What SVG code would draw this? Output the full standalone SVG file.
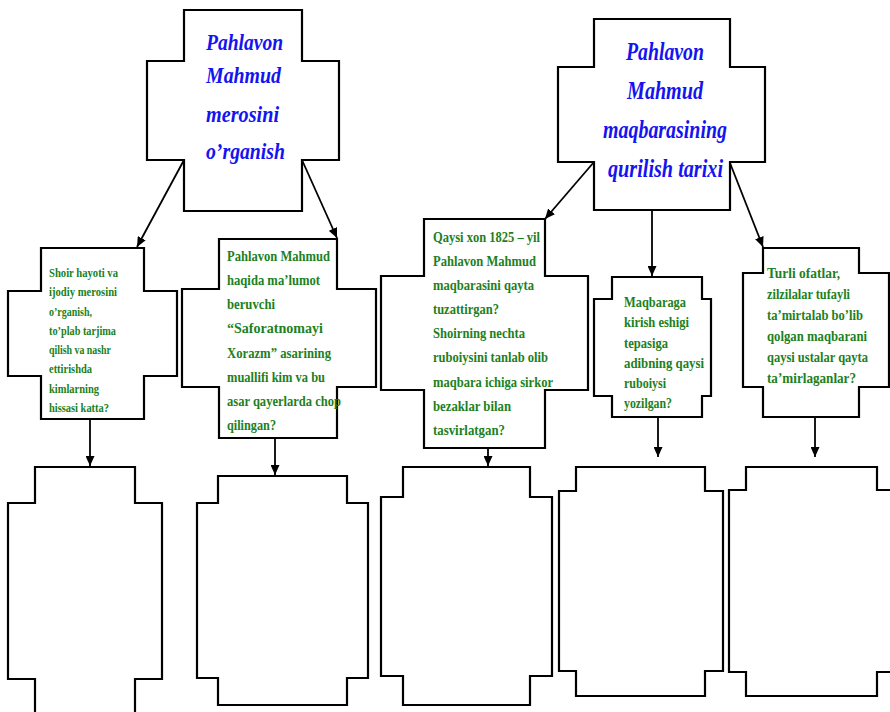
<svg xmlns="http://www.w3.org/2000/svg" width="890" height="712" viewBox="0 0 890 712">
<style>
.shape{fill:#fff;stroke:#000;stroke-width:2.2;stroke-linejoin:miter}
.conn{fill:none;stroke:#000;stroke-width:1.8}
.title{font-family:"Liberation Serif","Times New Roman",serif;font-weight:bold;font-style:italic;fill:#1414f0}
.q{font-family:"Liberation Serif","Times New Roman",serif;font-weight:bold;fill:#217f21}
</style>
<defs>
<marker id="arr" markerUnits="userSpaceOnUse" markerWidth="10" markerHeight="9" refX="10" refY="4.5" orient="auto">
<path d="M0,0 L10,4.5 L0,9 z" fill="#000"/>
</marker>
</defs>
<rect width="890" height="712" fill="#fff"/>

<g id="connectors">
<line class="conn" x1="184" y1="160" x2="137" y2="247" marker-end="url(#arr)"/>
<line class="conn" x1="302" y1="160" x2="337" y2="238" marker-end="url(#arr)"/>
<line class="conn" x1="594" y1="162" x2="545" y2="219" marker-end="url(#arr)"/>
<line class="conn" x1="652" y1="210" x2="652" y2="276" marker-end="url(#arr)"/>
<line class="conn" x1="730" y1="163" x2="763" y2="247" marker-end="url(#arr)"/>
<line class="conn" x1="90" y1="419" x2="90" y2="466" marker-end="url(#arr)"/>
<line class="conn" x1="275" y1="439" x2="275" y2="475" marker-end="url(#arr)"/>
<line class="conn" x1="488" y1="448" x2="488" y2="466" marker-end="url(#arr)"/>
<line class="conn" x1="658" y1="417" x2="658" y2="457" marker-end="url(#arr)"/>
<line class="conn" x1="815" y1="417" x2="815" y2="457" marker-end="url(#arr)"/>
</g>

<g id="title-left">
<path class="shape" d="M184,10 H302 V61 H339 V160 H302 V211 H184 V160 H147 V61 H184 Z"/>
<text class="title" font-size="24"><tspan x="206" y="50" textLength="77" lengthAdjust="spacingAndGlyphs">Pahlavon</tspan><tspan x="206" y="83" textLength="75" lengthAdjust="spacingAndGlyphs">Mahmud</tspan><tspan x="206" y="122" textLength="73" lengthAdjust="spacingAndGlyphs">merosini</tspan><tspan x="206" y="159" textLength="79" lengthAdjust="spacingAndGlyphs">o’rganish</tspan></text>
</g>

<g id="title-right">
<path class="shape" d="M594,19 H730 V67 H765 V162 H730 V210 H594 V162 H558 V67 H594 Z"/>
<text class="title" font-size="25"><tspan x="626" y="60" textLength="78" lengthAdjust="spacingAndGlyphs">Pahlavon</tspan><tspan x="627" y="99" textLength="76" lengthAdjust="spacingAndGlyphs">Mahmud</tspan><tspan x="603" y="138" textLength="124" lengthAdjust="spacingAndGlyphs">maqbarasining</tspan><tspan x="608" y="177" textLength="115" lengthAdjust="spacingAndGlyphs">qurilish tarixi</tspan></text>
</g>

<g id="q1">
<path class="shape" d="M41,248 H144 V291 H177 V376 H144 V419 H41 V376 H8 V291 H41 Z"/>
<text class="q" font-size="13"><tspan x="49" y="277" textLength="69" lengthAdjust="spacingAndGlyphs">Shoir hayoti va</tspan><tspan x="49" y="296" textLength="68" lengthAdjust="spacingAndGlyphs">ijodiy merosini</tspan><tspan x="49" y="316" textLength="43" lengthAdjust="spacingAndGlyphs">o’rganish,</tspan><tspan x="49" y="335" textLength="67" lengthAdjust="spacingAndGlyphs">to’plab tarjima</tspan><tspan x="49" y="354" textLength="62" lengthAdjust="spacingAndGlyphs">qilish va nashr</tspan><tspan x="49" y="373" textLength="43" lengthAdjust="spacingAndGlyphs">ettirishda</tspan><tspan x="49" y="393" textLength="50" lengthAdjust="spacingAndGlyphs">kimlarning</tspan><tspan x="49" y="412" textLength="60" lengthAdjust="spacingAndGlyphs">hissasi katta?</tspan></text>
</g>

<g id="q2">
<path class="shape" d="M219,239 H337 V289 H376 V387 H337 V438 H219 V387 H182 V289 H219 Z"/>
<text class="q" font-size="15"><tspan x="227" y="261" textLength="103" lengthAdjust="spacingAndGlyphs">Pahlavon Mahmud</tspan><tspan x="227" y="285" textLength="93" lengthAdjust="spacingAndGlyphs">haqida ma’lumot</tspan><tspan x="227" y="309" textLength="48" lengthAdjust="spacingAndGlyphs">beruvchi</tspan><tspan x="227" y="333" textLength="96" lengthAdjust="spacingAndGlyphs">“Saforatnomayi</tspan><tspan x="227" y="358" textLength="104" lengthAdjust="spacingAndGlyphs">Xorazm” asarining</tspan><tspan x="227" y="382" textLength="98" lengthAdjust="spacingAndGlyphs">muallifi kim va bu</tspan><tspan x="227" y="406" textLength="114" lengthAdjust="spacingAndGlyphs">asar qayerlarda chop</tspan><tspan x="227" y="430" textLength="49" lengthAdjust="spacingAndGlyphs">qilingan?</tspan></text>
</g>

<g id="q3">
<path class="shape" d="M424,219 H545 V276 H588 V390 H545 V448 H424 V390 H381 V276 H424 Z"/>
<text class="q" font-size="15"><tspan x="433" y="242" textLength="107" lengthAdjust="spacingAndGlyphs">Qaysi xon 1825 – yil</tspan><tspan x="433" y="266" textLength="103" lengthAdjust="spacingAndGlyphs">Pahlavon Mahmud</tspan><tspan x="433" y="290" textLength="101" lengthAdjust="spacingAndGlyphs">maqbarasini qayta</tspan><tspan x="433" y="314" textLength="66" lengthAdjust="spacingAndGlyphs">tuzattirgan?</tspan><tspan x="433" y="338" textLength="92" lengthAdjust="spacingAndGlyphs">Shoirning nechta</tspan><tspan x="433" y="362" textLength="115" lengthAdjust="spacingAndGlyphs">ruboiysini tanlab olib</tspan><tspan x="433" y="387" textLength="120" lengthAdjust="spacingAndGlyphs">maqbara ichiga sirkor</tspan><tspan x="433" y="411" textLength="78" lengthAdjust="spacingAndGlyphs">bezaklar bilan</tspan><tspan x="433" y="435" textLength="72" lengthAdjust="spacingAndGlyphs">tasvirlatgan?</tspan></text>
</g>

<g id="q4">
<path class="shape" d="M612,277 H702 V299 H711 V396 H702 V417 H612 V396 H594 V299 H612 Z"/>
<text class="q" font-size="14"><tspan x="624" y="307" textLength="62" lengthAdjust="spacingAndGlyphs">Maqbaraga</tspan><tspan x="624" y="327" textLength="65" lengthAdjust="spacingAndGlyphs">kirish eshigi</tspan><tspan x="624" y="348" textLength="44" lengthAdjust="spacingAndGlyphs">tepasiga</tspan><tspan x="624" y="368" textLength="80" lengthAdjust="spacingAndGlyphs">adibning qaysi</tspan><tspan x="624" y="388" textLength="42" lengthAdjust="spacingAndGlyphs">ruboiysi</tspan><tspan x="624" y="408" textLength="48" lengthAdjust="spacingAndGlyphs">yozilgan?</tspan></text>
</g>

<g id="q5">
<path class="shape" d="M763,248 H859 V273 H889 V387 H859 V417 H763 V387 H743 V273 H763 Z"/>
<text class="q" font-size="15"><tspan x="767" y="278" textLength="73" lengthAdjust="spacingAndGlyphs">Turli ofatlar,</tspan><tspan x="767" y="299" textLength="83" lengthAdjust="spacingAndGlyphs">zilzilalar tufayli</tspan><tspan x="767" y="320" textLength="96" lengthAdjust="spacingAndGlyphs">ta’mirtalab bo’lib</tspan><tspan x="767" y="341" textLength="100" lengthAdjust="spacingAndGlyphs">qolgan maqbarani</tspan><tspan x="767" y="362" textLength="101" lengthAdjust="spacingAndGlyphs">qaysi ustalar qayta</tspan><tspan x="767" y="383" textLength="89" lengthAdjust="spacingAndGlyphs">ta’mirlaganlar?</tspan></text>
</g>

<g id="a1"><path class="shape" d="M35,467 H135 V503 H162 V679 H135 V724 H35 V679 H8 V503 H35 Z"/></g>
<g id="a2"><path class="shape" d="M218,476 H347 V503 H368 V678 H347 V705 H218 V678 H197 V503 H218 Z"/></g>
<g id="a3"><path class="shape" d="M403,467 H530 V497 H552 V676 H530 V705 H403 V676 H381 V497 H403 Z"/></g>
<g id="a4"><path class="shape" d="M576,467 H705 V491 H723 V671 H705 V696 H576 V671 H559 V491 H576 Z"/></g>
<g id="a5"><path class="shape" d="M746,467 H877 V490 H900 V672 H877 V696 H746 V672 H729 V490 H746 Z"/></g>
</svg>
